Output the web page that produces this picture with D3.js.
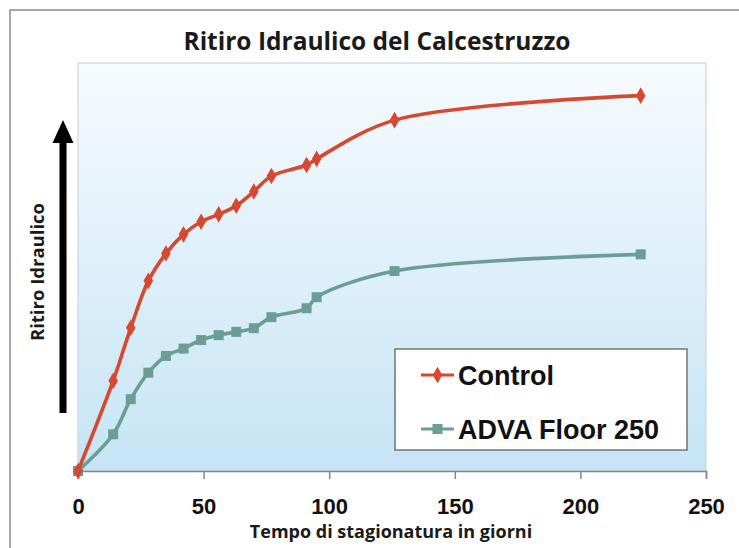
<!DOCTYPE html>
<html>
<head>
<meta charset="utf-8">
<script src="https://cdn.jsdelivr.net/npm/d3@7"></script>
<style>
  html, body { margin: 0; padding: 0; background: #ffffff; }
  svg { display: block; }
</style>
</head>
<body>
<svg id="chart" width="739" height="548"></svg>
<script>
// ---- data ----
const days = [0, 14, 21, 28, 35, 42, 49, 56, 63, 70, 77, 91, 95, 126, 224];
const controlValues = [0, 22.1, 35.1, 46.6, 53.3, 58.0, 61.1, 62.9, 65.0, 68.5, 72.3, 75.0, 76.5, 86.0, 92.0];
const advaValues = [0, 9.0, 17.6, 24.1, 28.2, 30.0, 32.1, 33.3, 34.1, 35.0, 37.7, 39.9, 42.6, 49.0, 53.1];
const xTicks = [0, 50, 100, 150, 200, 250];
const seriesNames = ["Control", "ADVA Floor 250"];
const titleText = "Ritiro Idraulico del Calcestruzzo";
const xTitleText = "Tempo di stagionatura in giorni";
const yTitleText = "Ritiro Idraulico";

// ---- layout ----
const svg = d3.select("#chart");
const plot = { left: 78, right: 706, top: 63, bottom: 471 };
const colors = { control: "#d8472f", adva: "#6a9e95" };

const x = d3.scaleLinear().domain([0, 250]).range([plot.left, plot.right]);
const y = d3.scaleLinear().domain([0, 100]).range([plot.bottom, plot.top]);

// outer frame (only left and top visible)
svg.append("rect")
  .attr("x", 10).attr("y", 10).attr("width", 760).attr("height", 560)
  .attr("fill", "none").attr("stroke", "#8a8a8a").attr("stroke-width", 1.5);

// gradient background
const defs = svg.append("defs");
const grad = defs.append("linearGradient").attr("id", "bg")
  .attr("x1", 0).attr("y1", 0).attr("x2", 0).attr("y2", 1);
grad.append("stop").attr("offset", "0%").attr("stop-color", "#f6fbfe");
grad.append("stop").attr("offset", "100%").attr("stop-color", "#c6e4f5");

svg.append("rect")
  .attr("x", plot.left).attr("y", plot.top)
  .attr("width", plot.right - plot.left).attr("height", plot.bottom - plot.top)
  .attr("fill", "url(#bg)").attr("stroke", "#d0d4d8").attr("stroke-width", 1.2);

// title
svg.append("text")
  .attr("x", 377).attr("y", 50)
  .attr("text-anchor", "middle")
  .attr("font-family", "'Open Sans', sans-serif")
  .attr("font-weight", 700)
  .attr("font-size", 24.5)
  .attr("fill", "#1a1a1a")
  .text(titleText);

// x axis
const xAxis = d3.axisBottom(x).tickValues(xTicks).tickSize(8).tickFormat(d3.format("d"));
const gx = svg.append("g").attr("transform", `translate(0,${plot.bottom})`).call(xAxis);
gx.select(".domain").attr("stroke", "#7d8a93").attr("stroke-width", 1.5);
gx.selectAll(".tick line").attr("stroke", "#7d8a93").attr("stroke-width", 1.5);
gx.selectAll(".tick text")
  .attr("font-family", "'Liberation Sans', Arial, sans-serif")
  .attr("font-weight", "bold")
  .attr("font-size", 22)
  .attr("fill", "#111")
  .attr("dy", null)
  .attr("y", 43);

// x title
svg.append("text")
  .attr("x", 391).attr("y", 538)
  .attr("text-anchor", "middle")
  .attr("font-family", "'Open Sans', sans-serif")
  .attr("font-weight", 700)
  .attr("font-size", 18)
  .attr("fill", "#1a1a1a")
  .text(xTitleText);

// y title
svg.append("text")
  .attr("transform", "translate(44,272) rotate(-90)")
  .attr("text-anchor", "middle")
  .attr("font-family", "'Open Sans', sans-serif")
  .attr("font-weight", 700)
  .attr("font-size", 18.5)
  .attr("fill", "#1a1a1a")
  .text(yTitleText);

// arrow
svg.append("line")
  .attr("x1", 63).attr("x2", 63).attr("y1", 413).attr("y2", 140)
  .attr("stroke", "#000").attr("stroke-width", 7);
svg.append("path")
  .attr("d", "M63,120 L73.5,143 L52.5,143 Z")
  .attr("fill", "#000");

// series
const controlData = days.map((d, i) => ({ d, v: controlValues[i] }));
const advaData = days.map((d, i) => ({ d, v: advaValues[i] }));

const line = d3.line().x(p => x(p.d)).y(p => y(p.v)).curve(d3.curveCatmullRom.alpha(0.5));

const diamond = d3.symbol().type(d3.symbolDiamond).size(80);
const square = d3.symbol().type(d3.symbolSquare).size(100);

function drawSeries(data, color, sym) {
  svg.append("path").datum(data)
    .attr("d", line).attr("fill", "none")
    .attr("stroke", color).attr("stroke-width", 3.6)
    .attr("stroke-linejoin", "round");
  svg.append("g").selectAll("path").data(data).join("path")
    .attr("d", sym)
    .attr("transform", p => `translate(${x(p.d)},${y(p.v)})`)
    .attr("fill", color);
}
drawSeries(advaData, colors.adva, square);
drawSeries(controlData, colors.control, diamond);

// legend
const lg = svg.append("g");
lg.append("rect")
  .attr("x", 395).attr("y", 349).attr("width", 292).attr("height", 101)
  .attr("fill", "#ffffff").attr("stroke", "#555").attr("stroke-width", 1.2);
const legendItems = [
  { name: seriesNames[0], color: colors.control, sym: diamond, cy: 375 },
  { name: seriesNames[1], color: colors.adva, sym: square, cy: 429 }
];
legendItems.forEach(it => {
  lg.append("line").attr("x1", 421).attr("x2", 454).attr("y1", it.cy).attr("y2", it.cy)
    .attr("stroke", it.color).attr("stroke-width", 3);
  lg.append("path").attr("d", it.sym).attr("transform", `translate(437.5,${it.cy})`).attr("fill", it.color);
  lg.append("text")
    .attr("x", 458).attr("y", it.cy + 9.5)
    .attr("font-family", "'Liberation Sans', Arial, sans-serif")
    .attr("font-weight", "bold")
    .attr("font-size", 27)
    .attr("fill", "#111")
    .text(it.name);
});
</script>
</body>
</html>
